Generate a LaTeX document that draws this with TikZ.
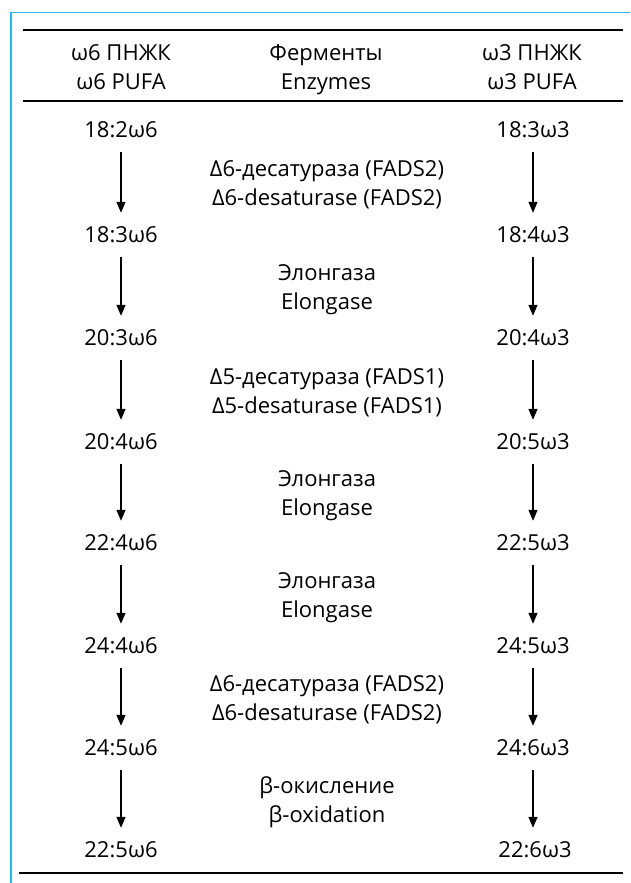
\documentclass[tikz,border=0pt]{standalone}
\usepackage{fontspec}
\setmainfont{Open Sans}
\usetikzlibrary{arrows.meta}
\definecolor{framecol}{RGB}{40,185,240}
\begin{document}
\begin{tikzpicture}[x=1pt,y=-1pt,
  txt/.style={font=\fontsize{22}{26}\selectfont, inner sep=0pt, anchor=base},
  cmp/.style={font=\fontsize{22}{26}\selectfont, inner xsep=1pt, inner ysep=0pt,
              text height=29.8pt, text depth=14.2pt, anchor=center},
  arr/.style={line width=1.3pt, -{Triangle[length=11pt,width=9pt]}},
  rule/.style={line width=2.5pt}]
\useasboundingbox (0,0) rectangle (630,883);
% frame
\draw[framecol, line width=1.5pt] (11,883) -- (11,12.5) -- (630,12.5);
% rules
\draw[rule] (23,30) -- (623,30);
\draw[rule] (23,101) -- (623,101);
\draw[rule] (19,873) -- (623,873);
% header
\node[txt] (h1a) at (121,61) {ω6 ПНЖК};
\node[txt] (h1b) at (121,89) {ω6 PUFA};
\node[txt] (h2a) at (326,61) {Ферменты};
\node[txt] (h2b) at (326,89) {Enzymes};
\node[txt] (h3a) at (532,61) {ω3 ПНЖК};
\node[txt] (h3b) at (532,89) {ω3 PUFA};
% compounds
\foreach \i/\y/\l/\r in {1/130/18:2ω6/18:3ω3, 2/235/18:3ω6/18:4ω3, 3/338/20:3ω6/20:4ω3,
  4/442/20:4ω6/20:5ω3, 5/543/22:4ω6/22:5ω3, 6/646/24:4ω6/24:5ω3, 7/748/24:5ω6/24:6ω3}{
  \node[cmp] (L\i) at (121,\y) {\l};
  \node[cmp] (R\i) at (533,\y) {\r};
}
\node[cmp] (L8) at (121,850) {22:5ω6};
\node[cmp] (R8) at (535,850) {22:6ω3};
% enzymes
\foreach \i/\m/\a/\b in {1/182.5/Δ6-десатураза (FADS2)/Δ6-desaturase (FADS2),
  2/286.5/Элонгаза/Elongase,
  3/390/Δ5-десатураза (FADS1)/Δ5-desaturase (FADS1),
  4/492.5/Элонгаза/Elongase,
  5/594.5/Элонгаза/Elongase,
  6/697/Δ6-десатураза (FADS2)/Δ6-desaturase (FADS2),
  7/799/β-окисление/β-oxidation}{
  \node[txt] (E\i a) at (327,\m-6) {\a};
  \node[txt] (E\i b) at (327,\m+23) {\b};
}
% arrows
\foreach \i/\j in {1/2,2/3,3/4,4/5,5/6,6/7,7/8}{
  \draw[arr] (L\i.south) -- (L\j.north);
}
\foreach \i/\j in {1/2,2/3,3/4,4/5,5/6,6/7}{
  \draw[arr] (R\i.south) -- (R\j.north);
}
\draw[arr] (R7.south) -- (R7.south |- R8.north);
\end{tikzpicture}
\end{document}
